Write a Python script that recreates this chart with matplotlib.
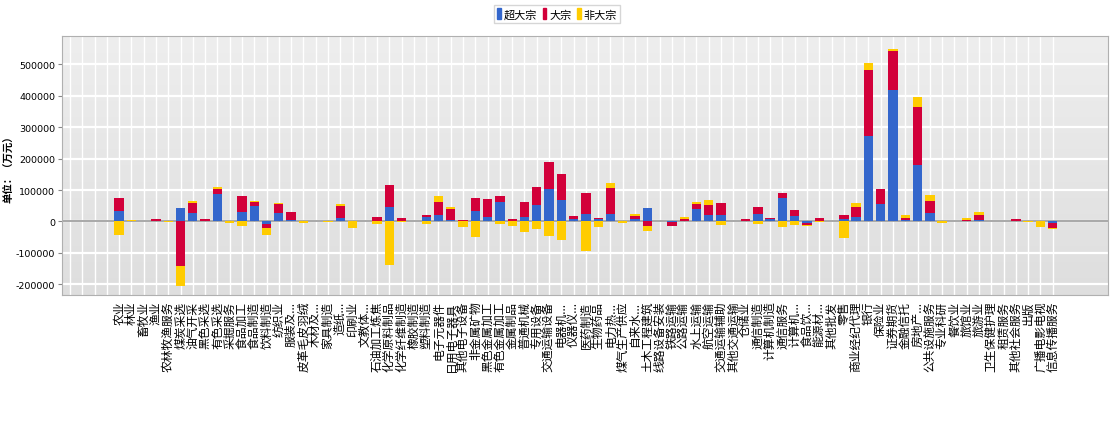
import numpy as np
import matplotlib.pyplot as plt
from matplotlib.patches import Patch

plt.rcParams['font.family'] = ['Noto Sans CJK SC', 'DejaVu Sans']

categories = ['农业', '林业', '畜牧业', '渔业', '农林牧渔服务', '煤炭采选', '油气开采', '黑色采选',
              '有色采选', '采掘服务', '食品加工', '食品制造', '饮料制造', '纺织业', '服装及...',
              '皮革毛皮羽绒', '木材及...', '家具制造', '造纸...', '印刷业', '文教体...', '石油加工炼焦',
              '化学原料制品', '化学纤维制造', '橡胶制造', '塑料制造', '电子元器件', '日用电子器具',
              '其他电子设备', '非金属矿物', '黑色金属加工', '有色金属加工', '金属制品', '普通机械',
              '专用设备', '交通运输设备', '电器机...', '仪器仪...', '医药制造', '生物药品', '电力热...',
              '煤气生产供应', '自来水...', '土木工程建筑', '线路设备安装', '铁路运输', '公路运输',
              '水上运输', '航空运输', '交通运输辅助', '其他交通运输', '仓储业', '通信制造',
              '计算机制造', '通信服务', '计算机...', '食品饮...', '能源材...', '其他批发', '零售',
              '商业经纪代理', '银行', '保险业', '证券期货', '金融信托', '房地产...', '公共设施服务',
              '专业科研', '餐饮业', '旅馆业', '旅游业', '卫生保健护理', '租赁服务', '其他社会服务',
              '出版', '广播电影电视', '信息传播服务']

# 超大宗
super_bulk = [33000, 0, 0, 1000, 0, 42000, 26000, 2000, 88000, 0,
              30000, 48000, -9500, 26000, 6000, 0, 0, 0, 10000, 0,
              0, 2000, 46000, 3000, 0, 14000, 20000, 6000, 2000, 34000,
              14000, 61000, 3000, 15000, 53000, 102000, 69000, 8500, 24000, 8000,
              24000, 0, 8500, 43000, 0, -2000, 2000, 39000, 19000, 21000,
              0, 1000, 25000, 6500, 76000, 16000, -5000, 2000, 0, 9000,
              14000, 271000, 54000, 417000, 5000, 181000, 26500, 0, 0, 1000,
              4000, 0, 0, 1000, 0, 0, -4000]
# 大宗
bulk = [43000, 2000, 2000, 6000, 2500, -141000, 33000, 6000, 14000, 2000,
        51000, 13000, -10500, 29000, 23000, 1000, 2000, 1000, 38000, 0,
        1500, 13000, 71000, 7000, 2000, 6000, 41000, 33000, 4000, 40000,
        56000, 19000, 5500, 46000, 58000, 87000, 83000, 7500, 68000, 2000,
        82000, 2000, 9500, -15000, 1500, -12000, 7000, 15000, 32000, 38000,
        1000, 7000, 22000, 5000, 15000, 21000, -6000, 10000, 500, 13000,
        32000, 212000, 50000, 124000, 7000, 182000, 39000, 1000, 0, 4000,
        17000, 0, 0, 8000, 0, 2000, -17000]
# 非大宗
non_bulk = [-42000, 3000, 0, 0, -3000, -63000, 6000, 0, 9000, -5000,
            -15000, 4000, -22000, 3000, 0, -5000, 0, -3000, 6000, -20000,
            0, -8000, -137000, -2000, 0, -8500, 21000, 6000, -17000, -51000,
            0, -8500, -14000, -34000, -23000, -47000, -60000, 0, -94000, -18000,
            15000, -4000, 5000, -15000, 0, 0, 5000, 7000, 18000, -10500,
            0, 0, -8500, 0, -17000, -12500, -2000, -2000, 0, -52000,
            14000, 21000, 0, 9000, 7000, 32000, 19000, -5000, 0, 5000,
            7500, 0, 0, 0, -3000, -18000, -2000]

series_names = ['超大宗', '大宗', '非大宗']
colors = ['#3366cc', '#d2003a', '#ffcc00']

fig = plt.figure(figsize=(11.15, 4.27), dpi=100)
ax = fig.add_axes([0.0556, 0.3068, 0.9381, 0.6065])

# grey gradient background
grad = np.linspace(0, 1, 256).reshape(-1, 1)
ax.imshow(grad, cmap=plt.matplotlib.colors.LinearSegmentedColormap.from_list('bg', ['#eeeeee', '#dedede']),
          extent=[-4.65, 80.5, -234000, 590000], aspect='auto', zorder=0, origin='upper')

x = np.arange(len(categories))
pos_base = np.zeros(len(x))
neg_base = np.zeros(len(x))
for vals, color in zip([super_bulk, bulk, non_bulk], colors):
    v = np.array(vals, dtype=float)
    bottom = np.where(v >= 0, pos_base, neg_base)
    ax.bar(x, v, 0.76, bottom=bottom, color=color, zorder=3, linewidth=0)
    pos_base += np.clip(v, 0, None)
    neg_base += np.clip(v, None, 0)

ax.set_xlim(-4.65, 80.5)
ax.set_ylim(-234000, 590000)

# grid lines
for gx in range(-4, len(categories)):
    ax.axvline(gx, color='white', lw=1.0, zorder=1)
yt = np.arange(-200000, 500001, 100000)
for gy in yt:
    ax.axhline(gy, color='white', lw=1.6, zorder=1)
ax.axhline(0, color='#9a9a9a', lw=1.2, zorder=2)

ax.set_yticks(yt)
ax.set_yticklabels([str(v) for v in yt], family='DejaVu Sans', fontsize=6.8)
ax.set_xticks(x)
ax.set_xticklabels(categories, rotation=90, fontsize=8.5, va='top', ha='center')
ax.tick_params(axis='x', length=0, pad=4)
ax.tick_params(axis='y', length=3, color='#888888', pad=2)

for sp in ax.spines.values():
    sp.set_color('#b0b0b0')

fig.text(0.004, 0.61, '单位：（万元）', rotation=90, fontsize=7.5, fontweight='bold', va='center', ha='left')

handles = [Patch(color=c, label=n) for c, n in zip(colors, series_names)]
fig.legend(handles=handles, loc='center', bbox_to_anchor=(0.4996, 0.965), ncol=3, fontsize=8,
           handlelength=0.35, handleheight=1.1, handletextpad=0.25, columnspacing=0.5,
           borderpad=0.3, frameon=True, fancybox=False, edgecolor='#cccccc')

fig.savefig('out.png', dpi=100)
